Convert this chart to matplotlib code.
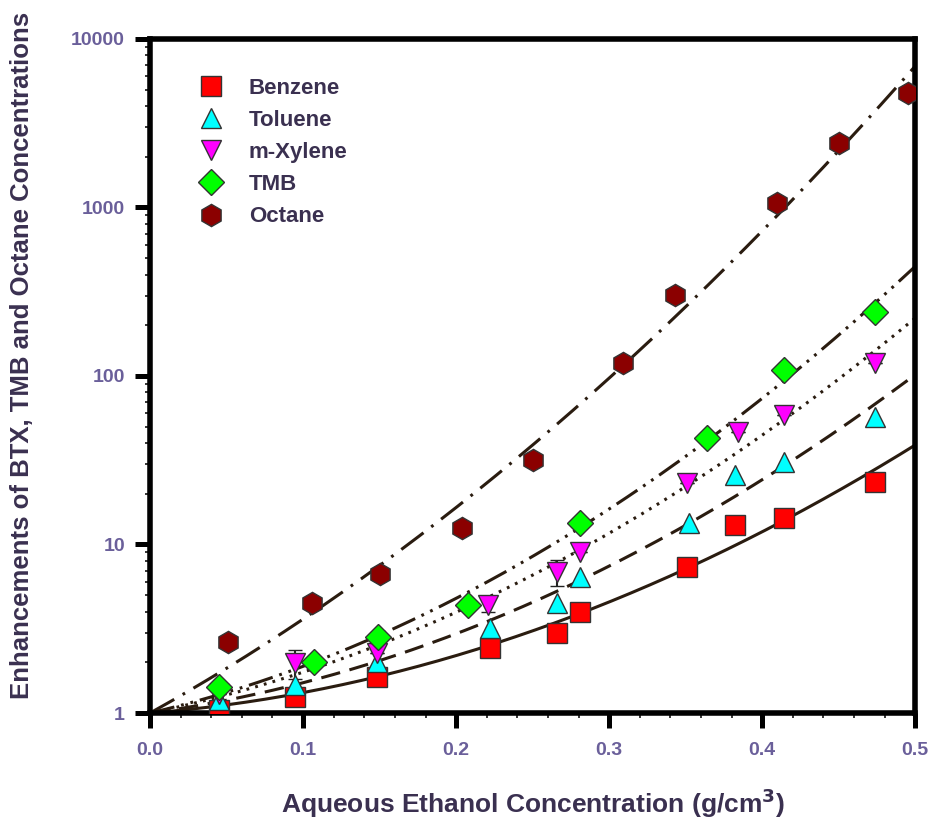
import numpy as np
import matplotlib
matplotlib.use("Agg")
from matplotlib import pyplot as plt
from matplotlib.ticker import LogLocator, NullFormatter, MultipleLocator

plt.rcParams['lines.scale_dashes'] = False

# ethanol concentration (g/cm3) and enhancement factors
x_benz = [0.045, 0.095, 0.148, 0.222, 0.266, 0.281, 0.351, 0.382, 0.414, 0.474]
y_benz = [1.04, 1.24, 1.64, 2.43, 3.0, 3.98, 7.35, 13.1, 14.4, 23.5]

x_tol = [0.045, 0.095, 0.148, 0.222, 0.266, 0.281, 0.352, 0.382, 0.414, 0.474]
y_tol = [1.2, 1.47, 2.0, 3.2, 4.5, 6.4, 13.4, 25.9, 30.9, 57.0]

x_xyl = [0.045, 0.095, 0.148, 0.221, 0.266, 0.281, 0.351, 0.384, 0.414, 0.474]
y_xyl = [1.3, 1.98, 2.27, 4.4, 6.9, 9.0, 23.2, 46.5, 58.8, 119.0]
err_xyl = [0, 0.38, 0, 0.4, 1.2, 0, 0, 0, 0, 0]

x_tmb = [0.045, 0.107, 0.149, 0.208, 0.281, 0.364, 0.414, 0.474]
y_tmb = [1.43, 2.0, 2.83, 4.37, 13.4, 42.9, 108.6, 240.0]

x_oct = [0.051, 0.106, 0.150, 0.204, 0.250, 0.309, 0.343, 0.410, 0.450, 0.495]
y_oct = [2.64, 4.5, 6.68, 12.5, 31.9, 119.0, 302.0, 1063.0, 2415.0, 4785.0]

names = ['Benzene', 'Toluene', 'm-Xylene', 'TMB', 'Octane']
xs = [x_benz, x_tol, x_xyl, x_tmb, x_oct]
ys = [y_benz, y_tol, y_xyl, y_tmb, y_oct]
markers = ['s', '^', 'v', 'D', 'h']
colors = ['#ff0000', '#00ffff', '#ff00ff', '#00ff00', '#8b0000']
sizes = [14, 15, 15, 13, 16]
# solid, dashed, dotted, dash-dot-dot, dash-dot
dashes = [None, (14, 7), (2, 4.5), (18, 5, 2, 5, 2, 5), (20, 7, 2, 7)]

linecol = '#2a1c10'
tickcol = '#6a5f9a'
textcol = '#3a3050'
edgecol = '#333333'

fig = plt.figure(figsize=(9.32, 8.24), dpi=100)
ax = fig.add_axes([0.161, 0.1347, 0.821, 0.818])

xx = np.linspace(0, 0.5, 200)
for x, y, ls in zip(xs, ys, dashes):
    # fit log10(E) = a*x + b*x^2, passing through E=1 at x=0
    xa = np.array(x)
    A = np.column_stack([xa, xa ** 2])
    coef = np.linalg.lstsq(A, np.log10(y), rcond=None)[0]
    fit = 10 ** (coef[0] * xx + coef[1] * xx ** 2)
    line, = ax.plot(xx, fit, color=linecol, lw=2.2, zorder=2)
    if ls is not None:
        line.set_dashes(ls)

for i, (x, y) in enumerate(zip(xs, ys)):
    ax.plot(x, y, ls='none', marker=markers[i], ms=sizes[i], mfc=colors[i],
            mec=edgecol, mew=1.0, zorder=3)

ax.errorbar(x_xyl, y_xyl, yerr=err_xyl, fmt='none', ecolor='#222222',
            elinewidth=1.5, capsize=5, zorder=2.5)

ax.set_yscale('log')
ax.set_xlim(0, 0.5)
ax.set_ylim(1, 10000)
ax.xaxis.set_major_locator(MultipleLocator(0.1))
ax.xaxis.set_minor_locator(MultipleLocator(0.02))
ax.yaxis.set_minor_locator(LogLocator(base=10, subs=np.arange(2, 10), numticks=20))
ax.yaxis.set_minor_formatter(NullFormatter())
ax.set_yticks([1, 10, 100, 1000, 10000])
ax.set_yticklabels(['1', '10', '100', '1000', '10000'])
ax.set_xticks([0, 0.1, 0.2, 0.3, 0.4, 0.5])
ax.set_xticklabels(['0.0', '0.1', '0.2', '0.3', '0.4', '0.5'])

for s in ax.spines.values():
    s.set_linewidth(4)
ax.tick_params(which='major', direction='out', length=11, width=3.6,
               colors='black')
ax.tick_params(which='minor', direction='out', length=3.6, width=1.1, colors='black')
ax.tick_params(axis='x', which='major', pad=10)
ax.tick_params(axis='y', which='major', pad=7)
for lab in ax.get_xticklabels() + ax.get_yticklabels():
    lab.set_fontfamily('Liberation Sans')
    lab.set_fontweight('bold')
    lab.set_fontsize(14)
    lab.set_color(tickcol)

ax.set_xlabel('Aqueous Ethanol Concentration (g/cm$^\\mathbf{3}$)', fontsize=19,
              fontweight='bold', color=textcol, family='Liberation Sans', labelpad=20)
ax.set_ylabel('Enhancements of BTX, TMB and Octane Concentrations', fontsize=18.5,
              fontweight='bold', color=textcol, family='Liberation Sans')
ax.yaxis.set_label_coords(-0.152, 0.53)

handles = [plt.Line2D([], [], ls='none', marker=markers[i], ms=sizes[i],
                      mfc=colors[i], mec=edgecol, mew=1.0) for i in range(5)]
leg = ax.legend(handles, names, loc='upper left', bbox_to_anchor=(0.036, 0.972),
                frameon=False, handlelength=1.2, handletextpad=1.1, labelspacing=0.5,
                prop={'family': 'Liberation Sans', 'size': 16, 'weight': 'bold'})
for t in leg.get_texts():
    t.set_color(textcol)

fig.savefig('out.png', dpi=100)
